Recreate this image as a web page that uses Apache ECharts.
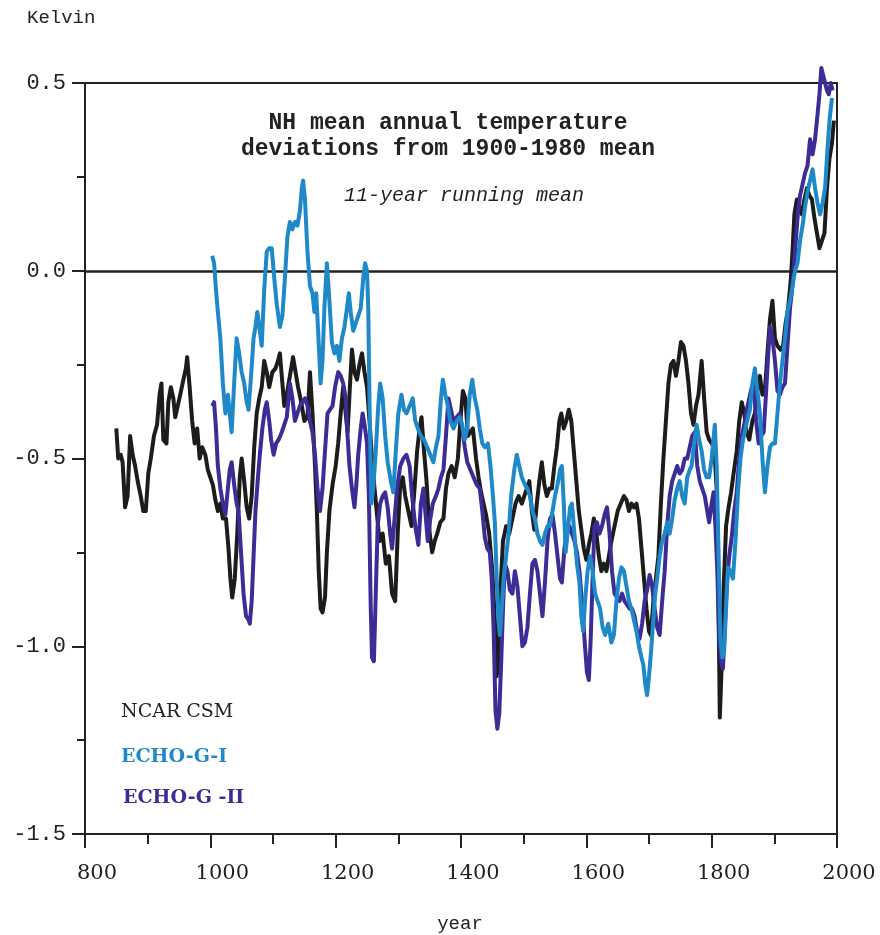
<!DOCTYPE html>
<html>
<head>
<meta charset="utf-8">
<script src="https://cdn.jsdelivr.net/npm/echarts@6/dist/echarts.min.js"></script>
<style>html,body{margin:0;padding:0;background:#fff;}#chart{width:880px;height:935px;}</style>
</head>
<body>
<div id="chart"></div>
<script>
const xTicks = [800, 1000, 1200, 1400, 1600, 1800, 2000];
const yTicks = [-1.5, -1.0, -0.5, 0.0, 0.5];
const seriesNames = ['NCAR CSM', 'ECHO-G-I', 'ECHO-G -II'];

const ncarCsm = [[850,-0.42],[853,-0.50],[857,-0.49],[860,-0.51],[864,-0.63],[868,-0.60],[872,-0.44],[876,-0.49],[880,-0.52],[884,-0.56],[889,-0.60],[893,-0.64],[897,-0.64],[901,-0.54],[905,-0.50],[910,-0.44],[915,-0.41],[919,-0.33],[922,-0.30],[925,-0.45],[930,-0.46],[933,-0.35],[937,-0.31],[941,-0.34],[944,-0.39],[948,-0.36],[952,-0.33],[957,-0.29],[961,-0.26],[963,-0.23],[967,-0.31],[971,-0.40],[975,-0.46],[979,-0.42],[983,-0.50],[987,-0.47],[992,-0.49],[996,-0.53],[1000,-0.55],[1004,-0.57],[1008,-0.61],[1012,-0.64],[1016,-0.62],[1020,-0.66],[1025,-0.66],[1029,-0.74],[1032,-0.82],[1035,-0.87],[1039,-0.82],[1043,-0.70],[1047,-0.55],[1050,-0.50],[1054,-0.56],[1058,-0.63],[1062,-0.66],[1066,-0.60],[1070,-0.47],[1074,-0.38],[1078,-0.34],[1082,-0.31],[1086,-0.24],[1090,-0.27],[1094,-0.31],[1099,-0.27],[1104,-0.26],[1108,-0.24],[1111,-0.22],[1115,-0.30],[1118,-0.36],[1122,-0.33],[1127,-0.28],[1132,-0.23],[1136,-0.27],[1140,-0.31],[1145,-0.35],[1150,-0.40],[1155,-0.39],[1159,-0.27],[1163,-0.38],[1167,-0.52],[1170,-0.64],[1173,-0.80],[1176,-0.90],[1179,-0.91],[1183,-0.87],[1186,-0.75],[1190,-0.64],[1195,-0.57],[1200,-0.52],[1204,-0.46],[1208,-0.38],[1212,-0.31],[1216,-0.38],[1219,-0.43],[1223,-0.30],[1226,-0.21],[1230,-0.27],[1234,-0.29],[1238,-0.25],[1242,-0.22],[1246,-0.27],[1250,-0.31],[1254,-0.40],[1258,-0.50],[1262,-0.58],[1266,-0.65],[1270,-0.72],[1275,-0.70],[1280,-0.78],[1285,-0.76],[1290,-0.86],[1295,-0.88],[1299,-0.70],[1303,-0.57],[1307,-0.55],[1311,-0.60],[1316,-0.64],[1321,-0.68],[1325,-0.60],[1330,-0.48],[1334,-0.42],[1337,-0.39],[1341,-0.48],[1345,-0.56],[1350,-0.70],[1354,-0.75],[1358,-0.72],[1362,-0.70],[1367,-0.67],[1372,-0.66],[1376,-0.58],[1380,-0.54],[1385,-0.52],[1390,-0.55],[1395,-0.50],[1399,-0.40],[1403,-0.32],[1407,-0.34],[1411,-0.44],[1415,-0.43],[1419,-0.42],[1424,-0.50],[1428,-0.55],[1432,-0.59],[1436,-0.62],[1440,-0.65],[1445,-0.70],[1450,-0.80],[1454,-0.93],[1457,-1.08],[1460,-1.02],[1463,-0.85],[1467,-0.72],[1472,-0.68],[1477,-0.70],[1482,-0.66],[1487,-0.62],[1492,-0.60],[1497,-0.62],[1501,-0.60],[1505,-0.58],[1509,-0.56],[1513,-0.64],[1517,-0.69],[1521,-0.62],[1525,-0.56],[1529,-0.51],[1533,-0.57],[1537,-0.60],[1541,-0.58],[1545,-0.58],[1549,-0.52],[1553,-0.47],[1557,-0.40],[1560,-0.38],[1564,-0.42],[1568,-0.40],[1572,-0.37],[1576,-0.40],[1580,-0.48],[1584,-0.56],[1588,-0.64],[1592,-0.69],[1596,-0.74],[1600,-0.77],[1604,-0.73],[1608,-0.70],[1612,-0.66],[1616,-0.70],[1620,-0.76],[1624,-0.80],[1628,-0.78],[1632,-0.80],[1636,-0.76],[1640,-0.72],[1645,-0.68],[1650,-0.64],[1655,-0.62],[1660,-0.60],[1664,-0.61],[1668,-0.64],[1672,-0.62],[1676,-0.63],[1680,-0.62],[1684,-0.66],[1688,-0.74],[1692,-0.82],[1696,-0.90],[1700,-0.96],[1703,-0.97],[1707,-0.88],[1711,-0.82],[1715,-0.76],[1719,-0.62],[1723,-0.50],[1727,-0.40],[1731,-0.30],[1735,-0.25],[1739,-0.24],[1743,-0.28],[1747,-0.24],[1751,-0.19],[1755,-0.20],[1759,-0.24],[1763,-0.30],[1767,-0.38],[1771,-0.41],[1775,-0.36],[1779,-0.33],[1784,-0.24],[1788,-0.34],[1792,-0.43],[1796,-0.45],[1800,-0.46],[1804,-0.47],[1808,-0.58],[1811,-0.90],[1813,-1.19],[1816,-1.05],[1819,-0.85],[1823,-0.68],[1827,-0.63],[1831,-0.59],[1835,-0.54],[1840,-0.48],[1844,-0.40],[1848,-0.35],[1852,-0.38],[1856,-0.43],[1860,-0.45],[1865,-0.40],[1869,-0.38],[1873,-0.32],[1877,-0.28],[1881,-0.33],[1885,-0.32],[1889,-0.22],[1893,-0.13],[1897,-0.08],[1901,-0.18],[1905,-0.20],[1910,-0.21],[1914,-0.20],[1918,-0.14],[1922,-0.10],[1926,-0.03],[1929,0.05],[1932,0.15],[1936,0.19],[1940,0.17],[1944,0.15],[1948,0.19],[1952,0.22],[1956,0.20],[1960,0.19],[1964,0.14],[1968,0.10],[1972,0.06],[1976,0.08],[1980,0.10],[1984,0.22],[1988,0.30],[1992,0.34],[1995,0.40]];

const echoG1 = [[1003,0.04],[1006,0.02],[1009,-0.05],[1012,-0.11],[1016,-0.18],[1020,-0.30],[1024,-0.38],[1028,-0.33],[1031,-0.38],[1034,-0.43],[1038,-0.30],[1042,-0.18],[1046,-0.22],[1050,-0.27],[1054,-0.30],[1058,-0.35],[1061,-0.37],[1065,-0.28],[1069,-0.18],[1072,-0.15],[1075,-0.11],[1079,-0.16],[1082,-0.20],[1086,-0.05],[1090,0.05],[1094,0.06],[1098,0.06],[1102,-0.02],[1106,-0.09],[1111,-0.15],[1115,-0.12],[1119,-0.02],[1123,0.09],[1127,0.13],[1131,0.11],[1135,0.13],[1139,0.12],[1143,0.16],[1146,0.22],[1148,0.24],[1151,0.19],[1155,0.05],[1159,-0.04],[1163,-0.06],[1166,-0.11],[1169,-0.06],[1172,-0.16],[1176,-0.30],[1179,-0.24],[1182,-0.10],[1186,0.02],[1190,-0.08],[1194,-0.19],[1198,-0.22],[1202,-0.20],[1206,-0.24],[1210,-0.18],[1214,-0.15],[1218,-0.10],[1221,-0.06],[1224,-0.11],[1228,-0.16],[1232,-0.14],[1236,-0.12],[1240,-0.10],[1244,-0.02],[1247,0.02],[1250,0.00],[1252,-0.10],[1254,-0.35],[1257,-0.62],[1260,-0.58],[1264,-0.48],[1268,-0.36],[1271,-0.30],[1275,-0.34],[1279,-0.44],[1283,-0.51],[1288,-0.56],[1292,-0.59],[1296,-0.48],[1300,-0.38],[1305,-0.33],[1309,-0.37],[1313,-0.38],[1318,-0.36],[1323,-0.34],[1327,-0.40],[1331,-0.42],[1336,-0.44],[1341,-0.45],[1346,-0.47],[1351,-0.49],[1356,-0.51],[1360,-0.47],[1364,-0.44],[1368,-0.34],[1371,-0.29],[1375,-0.33],[1379,-0.36],[1383,-0.40],[1388,-0.42],[1393,-0.40],[1398,-0.39],[1402,-0.41],[1406,-0.45],[1410,-0.42],[1414,-0.33],[1418,-0.29],[1422,-0.34],[1426,-0.37],[1430,-0.42],[1434,-0.46],[1438,-0.47],[1443,-0.46],[1447,-0.52],[1451,-0.60],[1454,-0.67],[1457,-0.82],[1460,-0.93],[1462,-0.97],[1465,-0.90],[1468,-0.82],[1472,-0.76],[1476,-0.70],[1480,-0.60],[1485,-0.53],[1489,-0.49],[1493,-0.52],[1497,-0.55],[1502,-0.57],[1506,-0.58],[1510,-0.60],[1514,-0.64],[1518,-0.66],[1522,-0.70],[1526,-0.72],[1530,-0.73],[1534,-0.70],[1538,-0.68],[1542,-0.68],[1546,-0.64],[1550,-0.60],[1554,-0.57],[1558,-0.53],[1561,-0.52],[1564,-0.62],[1567,-0.75],[1570,-0.70],[1574,-0.63],[1577,-0.62],[1581,-0.70],[1585,-0.78],[1589,-0.83],[1592,-0.92],[1595,-0.96],[1598,-0.88],[1602,-0.80],[1606,-0.76],[1610,-0.80],[1614,-0.86],[1618,-0.88],[1622,-0.90],[1626,-0.95],[1630,-0.97],[1635,-0.94],[1640,-0.99],[1644,-0.97],[1648,-0.88],[1652,-0.82],[1656,-0.79],[1660,-0.80],[1664,-0.84],[1668,-0.88],[1672,-0.90],[1676,-0.93],[1680,-0.96],[1684,-1.00],[1688,-1.03],[1691,-1.05],[1694,-1.10],[1697,-1.13],[1700,-1.08],[1703,-1.02],[1706,-0.95],[1710,-0.86],[1713,-0.82],[1717,-0.76],[1721,-0.72],[1725,-0.70],[1729,-0.67],[1733,-0.70],[1737,-0.66],[1741,-0.61],[1745,-0.58],[1749,-0.56],[1753,-0.60],[1757,-0.62],[1761,-0.55],[1765,-0.53],[1768,-0.52],[1772,-0.46],[1776,-0.41],[1780,-0.45],[1784,-0.48],[1788,-0.53],[1792,-0.55],[1796,-0.55],[1800,-0.50],[1805,-0.41],[1808,-0.52],[1811,-0.75],[1814,-0.98],[1817,-1.03],[1820,-1.01],[1823,-0.90],[1826,-0.79],[1830,-0.80],[1834,-0.82],[1838,-0.72],[1842,-0.59],[1846,-0.50],[1850,-0.45],[1854,-0.42],[1858,-0.39],[1861,-0.37],[1865,-0.30],[1869,-0.26],[1873,-0.32],[1877,-0.38],[1881,-0.50],[1885,-0.59],[1889,-0.52],[1893,-0.47],[1897,-0.46],[1901,-0.46],[1905,-0.38],[1909,-0.30],[1913,-0.24],[1917,-0.18],[1921,-0.11],[1925,-0.08],[1929,-0.04],[1933,0.00],[1937,0.02],[1941,0.08],[1945,0.12],[1949,0.17],[1953,0.21],[1957,0.24],[1961,0.27],[1965,0.22],[1969,0.18],[1973,0.15],[1977,0.18],[1981,0.22],[1985,0.33],[1988,0.40],[1992,0.46]];

const echoG2 = [[1003,-0.36],[1006,-0.35],[1009,-0.42],[1012,-0.52],[1016,-0.58],[1020,-0.62],[1024,-0.65],[1028,-0.58],[1031,-0.53],[1034,-0.51],[1038,-0.57],[1042,-0.62],[1045,-0.64],[1049,-0.75],[1053,-0.86],[1057,-0.92],[1061,-0.93],[1063,-0.94],[1066,-0.88],[1069,-0.76],[1072,-0.64],[1076,-0.55],[1079,-0.49],[1083,-0.42],[1087,-0.37],[1090,-0.35],[1094,-0.40],[1097,-0.45],[1101,-0.49],[1105,-0.46],[1109,-0.45],[1114,-0.43],[1118,-0.41],[1122,-0.39],[1127,-0.30],[1131,-0.34],[1135,-0.40],[1139,-0.38],[1143,-0.36],[1147,-0.35],[1151,-0.34],[1155,-0.36],[1159,-0.40],[1163,-0.43],[1167,-0.49],[1171,-0.58],[1175,-0.64],[1179,-0.58],[1183,-0.48],[1187,-0.38],[1191,-0.37],[1195,-0.36],[1199,-0.31],[1204,-0.27],[1208,-0.28],[1212,-0.30],[1216,-0.34],[1219,-0.44],[1222,-0.52],[1226,-0.58],[1230,-0.63],[1233,-0.57],[1236,-0.49],[1240,-0.42],[1243,-0.38],[1247,-0.42],[1250,-0.46],[1253,-0.60],[1256,-0.90],[1258,-1.03],[1261,-1.04],[1264,-0.86],[1267,-0.68],[1271,-0.62],[1275,-0.60],[1279,-0.59],[1283,-0.63],[1287,-0.70],[1290,-0.74],[1294,-0.66],[1298,-0.58],[1303,-0.52],[1308,-0.50],[1313,-0.49],[1318,-0.52],[1322,-0.60],[1327,-0.68],[1332,-0.73],[1336,-0.62],[1340,-0.58],[1344,-0.66],[1347,-0.72],[1351,-0.66],[1355,-0.62],[1360,-0.60],[1364,-0.58],[1368,-0.55],[1372,-0.53],[1376,-0.44],[1380,-0.34],[1384,-0.37],[1388,-0.40],[1393,-0.39],[1398,-0.38],[1402,-0.42],[1406,-0.47],[1410,-0.51],[1415,-0.53],[1420,-0.55],[1425,-0.57],[1430,-0.58],[1434,-0.64],[1438,-0.71],[1442,-0.74],[1446,-0.75],[1449,-0.82],[1452,-0.95],[1455,-1.17],[1458,-1.22],[1461,-1.18],[1464,-1.05],[1467,-0.90],[1470,-0.78],[1474,-0.80],[1478,-0.85],[1482,-0.86],[1486,-0.80],[1490,-0.84],[1494,-0.92],[1498,-1.00],[1502,-0.99],[1506,-0.95],[1510,-0.86],[1514,-0.78],[1518,-0.77],[1522,-0.80],[1526,-0.86],[1530,-0.92],[1534,-0.83],[1538,-0.72],[1542,-0.66],[1546,-0.65],[1550,-0.70],[1554,-0.76],[1558,-0.82],[1561,-0.83],[1565,-0.74],[1569,-0.70],[1573,-0.68],[1577,-0.70],[1581,-0.72],[1585,-0.75],[1589,-0.80],[1593,-0.88],[1597,-0.98],[1601,-1.07],[1604,-1.09],[1607,-0.98],[1610,-0.82],[1613,-0.68],[1617,-0.67],[1621,-0.70],[1625,-0.68],[1629,-0.65],[1633,-0.63],[1637,-0.70],[1641,-0.80],[1645,-0.86],[1649,-0.87],[1653,-0.88],[1657,-0.86],[1661,-0.88],[1665,-0.89],[1669,-0.90],[1673,-0.90],[1677,-0.92],[1681,-0.96],[1685,-0.98],[1689,-0.94],[1693,-0.88],[1697,-0.85],[1701,-0.81],[1705,-0.84],[1709,-0.90],[1713,-0.95],[1717,-0.97],[1721,-0.88],[1725,-0.80],[1729,-0.68],[1733,-0.60],[1737,-0.56],[1741,-0.54],[1745,-0.52],[1749,-0.54],[1753,-0.53],[1757,-0.50],[1761,-0.50],[1765,-0.47],[1769,-0.44],[1773,-0.43],[1777,-0.52],[1781,-0.56],[1785,-0.58],[1789,-0.60],[1793,-0.64],[1796,-0.67],[1800,-0.62],[1803,-0.59],[1806,-0.68],[1809,-0.80],[1812,-0.98],[1815,-1.04],[1818,-1.06],[1821,-0.95],[1824,-0.84],[1828,-0.76],[1832,-0.71],[1836,-0.64],[1840,-0.59],[1844,-0.50],[1848,-0.44],[1852,-0.41],[1856,-0.37],[1860,-0.34],[1864,-0.31],[1867,-0.30],[1871,-0.40],[1875,-0.46],[1879,-0.44],[1883,-0.43],[1887,-0.32],[1890,-0.23],[1893,-0.15],[1897,-0.18],[1901,-0.24],[1905,-0.32],[1909,-0.33],[1913,-0.31],[1917,-0.30],[1921,-0.20],[1925,-0.10],[1929,-0.04],[1933,0.05],[1937,0.14],[1941,0.20],[1945,0.23],[1949,0.26],[1953,0.28],[1957,0.35],[1961,0.31],[1965,0.35],[1968,0.40],[1972,0.47],[1975,0.54],[1978,0.52],[1981,0.50],[1984,0.48],[1987,0.47],[1990,0.50],[1993,0.48]];

const colors = ['#1c1c1c', '#1e88c8', '#3b2c96'];
const ink = '#222';

const chart = echarts.init(document.getElementById('chart'), null, {renderer: 'canvas'});
const lineSeries = (name, data, color, z) => ({
  name, type: 'line', data, showSymbol: false, symbol: 'none', clip: false, z,
  lineStyle: {color, width: 4, join: 'round'}, itemStyle: {color}
});
chart.setOption({
  animation: false,
  backgroundColor: '#fff',
  grid: {left: 85, right: 43, top: 83, bottom: 101, show: true, borderColor: ink, borderWidth: 2, backgroundColor: 'transparent'},
  xAxis: {
    type: 'value', min: xTicks[0], max: xTicks[xTicks.length - 1], interval: 200,
    axisLine: {show: true, onZero: false, lineStyle: {color: ink, width: 2}},
    axisTick: {show: true, length: 14, lineStyle: {color: ink, width: 2}},
    minorTick: {show: true, splitNumber: 2, length: 10, lineStyle: {color: ink, width: 2}},
    splitLine: {show: false},
    axisLabel: {color: ink, fontFamily: 'DejaVu Serif', fontSize: 21, margin: 29, padding: [0, 0, 0, 24], formatter: v => String(v)}
  },
  yAxis: {
    type: 'value', min: yTicks[0], max: yTicks[yTicks.length - 1], interval: 0.5,
    axisLine: {show: true, onZero: false, lineStyle: {color: ink, width: 2}},
    axisTick: {show: true, length: 13, lineStyle: {color: ink, width: 2}},
    minorTick: {show: true, splitNumber: 2, length: 8, lineStyle: {color: ink, width: 2}},
    splitLine: {show: false},
    axisLabel: {color: ink, fontFamily: 'Liberation Mono', fontSize: 22, margin: 19, formatter: v => v.toFixed(1)}
  },
  series: [
    Object.assign(lineSeries(seriesNames[0], ncarCsm, colors[0], 3), {
      markLine: {silent: true, symbol: 'none', label: {show: false}, animation: false,
        lineStyle: {color: ink, width: 2.5, type: 'solid'}, data: [{yAxis: 0}]}
    }),
    lineSeries(seriesNames[2], echoG2, colors[2], 4),
    lineSeries(seriesNames[1], echoG1, colors[1], 5)
  ],
  graphic: [
    {type: 'text', x: 27, y: 18, style: {text: 'Kelvin', font: '19px "Liberation Mono"', fill: ink, textVerticalAlign: 'middle'}},
    {type: 'text', x: 460, y: 924, style: {text: 'year', font: '19px "Liberation Mono"', fill: ink, textAlign: 'center', textVerticalAlign: 'middle'}},
    {type: 'text', x: 448, y: 123, style: {text: 'NH mean annual temperature', font: 'bold 23px "Liberation Mono"', fill: ink, textAlign: 'center', textVerticalAlign: 'middle'}},
    {type: 'text', x: 448, y: 149, style: {text: 'deviations from 1900-1980 mean', font: 'bold 23px "Liberation Mono"', fill: ink, textAlign: 'center', textVerticalAlign: 'middle'}},
    {type: 'text', x: 464, y: 196, style: {text: '11-year running mean', font: 'italic 20px "Liberation Mono"', fill: ink, textAlign: 'center', textVerticalAlign: 'middle'}},
    {type: 'text', x: 121, y: 712, style: {text: seriesNames[0], font: '19px "DejaVu Serif"', fill: ink, textVerticalAlign: 'middle'}},
    {type: 'text', x: 121, y: 757, style: {text: seriesNames[1], font: 'bold 19px "DejaVu Serif"', fill: colors[1], textVerticalAlign: 'middle'}},
    {type: 'text', x: 123, y: 798, style: {text: seriesNames[2], font: 'bold 19px "DejaVu Serif"', fill: colors[2], textVerticalAlign: 'middle'}}
  ]
});
</script>
</body>
</html>
